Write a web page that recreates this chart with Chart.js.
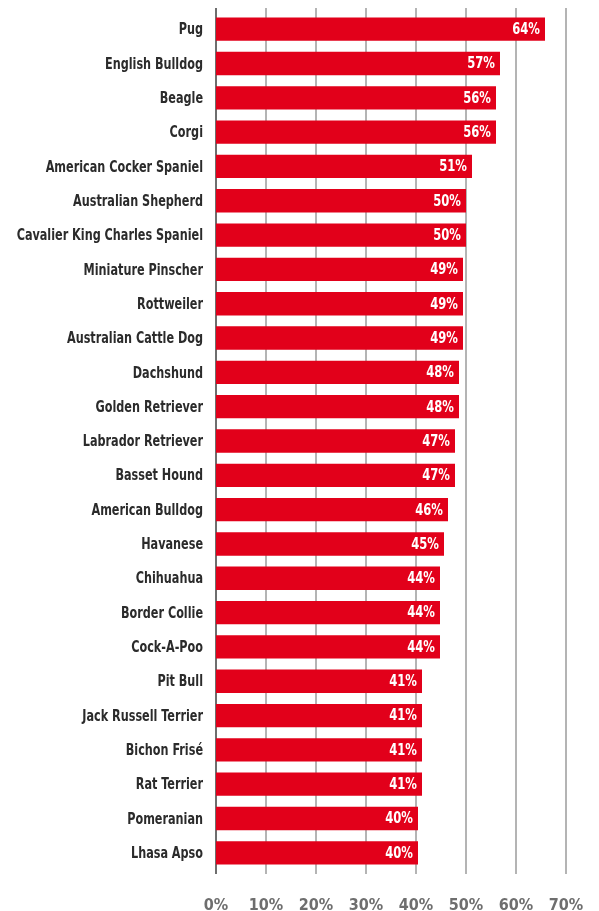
<!DOCTYPE html>
<html>
<head>
<meta charset="utf-8">
<script src="https://cdn.jsdelivr.net/npm/chart.js@4/dist/chart.umd.min.js"></script>
<style>
  html, body { margin: 0; padding: 0; background: #fff; }
  #wrap { width: 599px; height: 911px; position: relative; }
</style>
</head>
<body>
<div id="wrap"><canvas id="chart"></canvas></div>
<script>
// breeds, top to bottom
const breeds = [
    "Pug", "English Bulldog", "Beagle", "Corgi", "American Cocker Spaniel",
    "Australian Shepherd", "Cavalier King Charles Spaniel", "Miniature Pinscher",
    "Rottweiler", "Australian Cattle Dog", "Dachshund", "Golden Retriever",
    "Labrador Retriever", "Basset Hound", "American Bulldog", "Havanese",
    "Chihuahua", "Border Collie", "Cock-A-Poo", "Pit Bull", "Jack Russell Terrier",
    "Bichon Frisé", "Rat Terrier", "Pomeranian", "Lhasa Apso"
];
// bar lengths as drawn (percent)
const shares = [
    65.8, 56.8, 56, 56, 51.2,
    50, 50, 49.4, 49.4, 49.4,
    48.6, 48.6, 47.8, 47.8, 46.4,
    45.6, 44.8, 44.8, 44.8, 41.2,
    41.2, 41.2, 41.2, 40.4, 40.4
];
// printed labels on the bars
const shareLabels = [
    "64%", "57%", "56%", "56%", "51%",
    "50%", "50%", "49%", "49%", "49%",
    "48%", "48%", "47%", "47%", "46%",
    "45%", "44%", "44%", "44%", "41%",
    "41%", "41%", "41%", "40%", "40%"
];
const xTicks = [0, 10, 20, 30, 40, 50, 60, 70];

const FONT = "'DejaVu Sans Condensed', 'DejaVu Sans', sans-serif";

// draw text squeezed sideways, the original uses a condensed face
function narrowText(ctx, text, x, y, squeeze) {
    ctx.save();
    ctx.translate(x, y);
    ctx.scale(squeeze, 1);
    ctx.fillText(text, 0, 0);
    ctx.restore();
}

// vertical gridlines, a bit taller than the plot area
const gridPlugin = {
    id: 'grid',
    beforeDatasetsDraw(chart) {
        const { ctx, chartArea } = chart;
        const x = chart.scales.x;
        ctx.save();
        xTicks.forEach(v => {
            const px = Math.round(x.getPixelForValue(v));
            ctx.beginPath();
            ctx.lineWidth = 2;
            ctx.strokeStyle = v === 0 ? '#6e6e6e' : '#b4b4b4';
            ctx.moveTo(px, chartArea.top - 4);
            ctx.lineTo(px, chartArea.bottom + 4);
            ctx.stroke();
        });
        ctx.restore();
    }
};

// breed names on the left + white value labels at the bar ends
const textPlugin = {
    id: 'texts',
    afterDatasetsDraw(chart) {
        const { ctx } = chart;
        const y = chart.scales.y;
        const meta = chart.getDatasetMeta(0);
        ctx.save();
        ctx.textAlign = 'right';
        ctx.textBaseline = 'middle';

        ctx.font = 'bold 16px ' + FONT;
        ctx.fillStyle = '#2b2b2b';
        breeds.forEach((b, i) => {
            narrowText(ctx, b, 203, y.getPixelForValue(i) + 1, 0.78);
        });

        ctx.font = 'bold 15px ' + FONT;
        ctx.fillStyle = '#ffffff';
        meta.data.forEach((bar, i) => {
            narrowText(ctx, shareLabels[i], bar.x - 5, bar.y + 1, 0.86);
        });
        ctx.restore();
    }
};

new Chart(document.getElementById('chart'), {
    type: 'bar',
    data: {
        labels: breeds,
        datasets: [{
            data: shares,
            backgroundColor: '#e2001a',
            borderWidth: 0,
            categoryPercentage: 1,
            barPercentage: 0.68
        }]
    },
    options: {
        indexAxis: 'y',
        responsive: true,
        maintainAspectRatio: false,
        animation: false,
        layout: { padding: { top: 12, right: 33, bottom: 0, left: 0 } },
        plugins: {
            legend: { display: false },
            tooltip: { enabled: false }
        },
        scales: {
            x: {
                min: 0,
                max: 70,
                afterBuildTicks: (scale) => { scale.ticks = xTicks.map(v => ({ value: v })); },
                afterFit: (scale) => {
                    scale.height = 41;
                    scale.paddingLeft = 0;
                    scale.paddingRight = 0;
                },
                grid: { display: false, drawTicks: false },
                border: { display: false },
                ticks: {
                    padding: 26,
                    color: '#6e6e6e',
                    font: { family: FONT, size: 16, weight: 'bold' },
                    callback: (v) => v + '%'
                }
            },
            y: {
                afterFit: (scale) => { scale.width = 216; },
                grid: { display: false, drawTicks: false },
                border: { display: false },
                ticks: { display: false }
            }
        }
    },
    plugins: [gridPlugin, textPlugin]
});
</script>
</body>
</html>
